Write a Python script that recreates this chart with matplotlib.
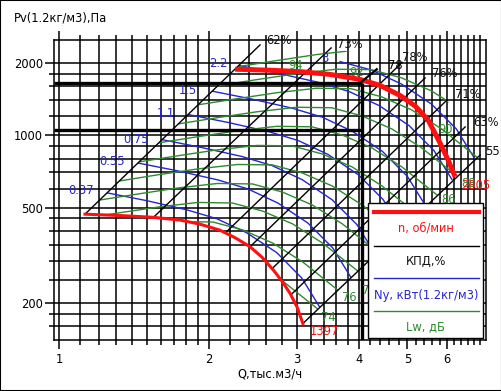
import matplotlib
matplotlib.use("Agg")
import matplotlib.pyplot as plt
from matplotlib.patches import Polygon, Rectangle
from matplotlib.lines import Line2D
from matplotlib.ticker import FixedLocator, NullFormatter

plt.rcParams["font.family"] = ["DejaVu Sans"]
FS = 8.3

# ---- сетка и оси
X_MAJOR = [1, 2, 3, 4, 5, 6]
X_MINOR = [1.1, 1.2, 1.3, 1.4, 1.5, 1.6, 1.7, 1.8, 1.9,
           2.2, 2.4, 2.6, 2.8, 3.2, 3.4, 3.6, 3.8, 4.2, 4.4, 4.6, 4.8,
           5.2, 5.4, 5.6, 5.8, 6.2, 6.4, 6.6, 6.8, 7.0]
Y_MAJOR = [200, 500, 1000, 2000]
Y_MINOR = [160, 180, 250, 300, 350, 400, 450, 600, 700, 800, 900,
           1200, 1400, 1600, 1800]
X_LIM = (0.977, 7.2)
Y_LIM = (140, 2500)

# ---- характеристики вентилятора (n, об/мин)
N_MAX_Q = [2.254, 2.649, 3.044, 3.497, 4.016, 4.405, 4.832, 5.181, 5.500,
           5.814, 6.033, 6.231]
N_MAX_P = [1888, 1870, 1845, 1796, 1712, 1616, 1467, 1326, 1159, 929, 789, 672]
N_MIN_Q = [1.126, 1.324, 1.545, 1.748, 1.917, 2.102, 2.254, 2.415, 2.553,
           2.690, 2.801, 2.906, 3.002, 3.083]
N_MIN_P = [469, 463, 455, 443, 426, 402, 374, 343, 310, 274, 246, 219, 192, 164]

# ---- линии КПД: нижняя и верхняя точки
EFF_LABELS = ["62%", "73%", "78%", "76%", "71%", "63%", "55"]
EFF_Q_LOW = [1.126, 1.545, 2.152, 2.415, 2.674, 2.920, 3.083]
EFF_P_LOW = [469, 455, 391, 343, 278, 216.5, 164]
EFF_Q_TOP = [2.529, 3.513, 4.877, 5.425, 6.005, 6.527, 6.996]
EFF_P_TOP = [2385, 2317, 2015, 1737, 1405, 1084, 828]
EFF_LBL_Q = [2.601, 3.612, 4.877, 5.604, 6.231, 6.773, 7.159]
EFF_LBL_P = [2478, 2385, 2104, 1804, 1474, 1132, 860]

# ---- мощность Ny, кВт
N037_Q = [1.245, 1.498, 1.803, 2.071, 2.379, 2.733, 3.067, 3.333]
N037_P = [576, 534, 489, 449, 392, 324, 254, 192]
N055_Q = [1.437, 1.729, 2.081, 2.390, 2.746, 3.154, 3.540, 3.847]
N055_P = [767, 711, 652, 598, 522, 431, 339, 256]
N075_Q = [1.607, 1.934, 2.328, 2.674, 3.071, 3.528, 3.959, 4.303]
N075_P = [960, 889, 816, 748, 654, 539, 424, 321]
N11_Q = [1.813, 2.182, 2.626, 3.016, 3.465, 3.980, 4.467, 4.854]
N11_P = [1222, 1132, 1038, 952, 832, 686, 540, 408]
N15_Q = [2.028, 2.440, 2.937, 3.373, 3.875, 4.452, 4.996, 5.429]
N15_P = [1529, 1416, 1298, 1191, 1040, 858, 675, 511]
N22_Q = [2.295, 2.761, 3.323, 3.817, 4.384, 5.037, 5.652, 6.143]
N22_P = [1957, 1812, 1662, 1524, 1332, 1099, 864, 654]
N3_Q = [3.662, 4.233, 4.862, 5.586, 6.269, 6.812]
N3_P = [2031, 1874, 1638, 1351, 1063, 804]
POWER_LABELS = ["0.37", "0.55", "0.75", "1.1", "1.5", "2.2", "3"]
POWER_LBL_Q = [1.174, 1.355, 1.514, 1.708, 1.890, 2.172, 3.465]
POWER_LBL_P = [586, 778, 961, 1228, 1532, 1987, 2084]

# ---- шум Lw, дБ
LW74_Q = [0.915, 1.090, 1.312, 1.579, 1.856, 2.132, 2.449, 2.813, 3.308]
LW74_P = [310, 329, 348, 364, 362, 335, 296, 246, 188]
LW76_Q = [1.002, 1.195, 1.438, 1.730, 2.034, 2.336, 2.684, 3.083, 3.625]
LW76_P = [373, 395, 418, 437, 435, 403, 355, 296, 226]
LW78_Q = [1.098, 1.309, 1.575, 1.896, 2.228, 2.560, 2.941, 3.378, 3.972]
LW78_P = [448, 474, 502, 525, 522, 483, 427, 355, 272]
LW80_Q = [1.204, 1.435, 1.726, 2.077, 2.442, 2.805, 3.222, 3.702, 4.352]
LW80_P = [537, 569, 603, 630, 627, 580, 512, 427, 326]
LW82_Q = [1.319, 1.572, 1.892, 2.276, 2.676, 3.074, 3.531, 4.057, 4.769]
LW82_P = [645, 684, 724, 756, 753, 697, 615, 512, 392]
LW84_Q = [1.445, 1.723, 2.073, 2.494, 2.932, 3.368, 3.869, 4.445, 5.226]
LW84_P = [775, 821, 870, 908, 904, 837, 739, 615, 470]
LW86_Q = [1.584, 1.888, 2.271, 2.733, 3.213, 3.691, 4.240, 4.871, 5.727]
LW86_P = [931, 986, 1044, 1091, 1086, 1005, 887, 739, 565]
LW88_Q = [1.736, 2.069, 2.489, 2.995, 3.521, 4.045, 4.647, 5.338, 6.276]
LW88_P = [1117, 1184, 1254, 1310, 1304, 1207, 1065, 887, 678]
LW90_Q = [1.902, 2.267, 2.728, 3.282, 3.858, 4.433, 5.092, 5.849, 6.877]
LW90_P = [1342, 1421, 1506, 1573, 1565, 1449, 1279, 1065, 814]
LW92_Q = [2.084, 2.484, 2.989, 3.596, 4.228, 4.857, 5.579, 6.410, 7.535]
LW92_P = [1611, 1707, 1808, 1888, 1880, 1740, 1535, 1279, 977]
LW94_Q = [2.284, 2.722, 3.275, 3.941, 4.633, 5.322, 6.114, 7.024, 8.257]
LW94_P = [1935, 2049, 2172, 2268, 2257, 2089, 1844, 1536, 1174]
NOISE_LABELS = ["74", "76", "78", "86", "88", "90", "92", "94"]
NOISE_LBL_Q = [3.465, 3.818, 4.188, 6.033, 6.618, 5.950, 3.943, 2.974]
NOISE_LBL_P = [174, 211, 226, 542, 632, 1053, 1821, 1949]

# ---- рабочая точка
OP_Q = 4.054
OP_P = [1650, 1053]
OP_SEG_Q = [4.048, 4.339]
OP_SEG_P = [1676, 1888]
OP_LABEL = ("78", 4.571, 1949)
RPM_LABELS = [("1397", 3.401, 152), ("2805", 6.868, 620)]

RED = "#ff0f0f"
BLUE = "#2424d0"
GREEN = "#2f8a2f"

fig = plt.figure(figsize=(5.02, 3.91), dpi=100)
fig.patches.append(Rectangle((0, 0), 1, 1, transform=fig.transFigure,
                             fill=False, ec="black", lw=1.5))
ax = fig.add_axes([0.1082, 0.1304, 0.8606, 0.7673])
ax.set_xscale("log")
ax.set_yscale("log")
ax.set_xlim(*X_LIM)
ax.set_ylim(*Y_LIM)

ax.xaxis.set_major_locator(FixedLocator(X_MAJOR))
ax.xaxis.set_minor_locator(FixedLocator(X_MINOR))
ax.yaxis.set_major_locator(FixedLocator(Y_MAJOR))
ax.yaxis.set_minor_locator(FixedLocator(Y_MINOR))
ax.set_xticklabels([str(v) for v in X_MAJOR])
ax.set_yticklabels([str(v) for v in Y_MAJOR])
ax.xaxis.set_minor_formatter(NullFormatter())
ax.yaxis.set_minor_formatter(NullFormatter())
ax.tick_params(which="major", length=6.5, width=1.1, direction="out",
               labelsize=FS, color="black")
ax.tick_params(which="minor", length=3.6, width=1.1, direction="out")
ax.tick_params(axis="x", which="both", top=True, pad=3)
ax.tick_params(axis="y", which="major", pad=1.5)
ax.grid(which="both", color="black", lw=1.1)
ax.set_axisbelow(True)
for s in ax.spines.values():
    s.set_linewidth(1.1)

# область допустимых режимов — для обрезки линий
region = list(zip(EFF_Q_TOP, EFF_P_TOP)) + list(zip(N_MIN_Q[::-1], N_MIN_P[::-1]))
clip = Polygon(region, closed=True, transform=ax.transData)

for q in [(N037_Q, N037_P), (N055_Q, N055_P), (N075_Q, N075_P), (N11_Q, N11_P),
          (N15_Q, N15_P), (N22_Q, N22_P), (N3_Q, N3_P)]:
    ln, = ax.plot(q[0], q[1], color=BLUE, lw=1.0, zorder=3)
    ln.set_clip_path(clip)

for q in [(LW74_Q, LW74_P), (LW76_Q, LW76_P), (LW78_Q, LW78_P), (LW80_Q, LW80_P),
          (LW82_Q, LW82_P), (LW84_Q, LW84_P), (LW86_Q, LW86_P), (LW88_Q, LW88_P),
          (LW90_Q, LW90_P), (LW92_Q, LW92_P), (LW94_Q, LW94_P)]:
    ln, = ax.plot(q[0], q[1], color=GREEN, lw=1.0, zorder=3)
    ln.set_clip_path(clip)

for i in range(len(EFF_LABELS)):
    ax.plot([EFF_Q_LOW[i], EFF_Q_TOP[i]], [EFF_P_LOW[i], EFF_P_TOP[i]],
            color="black", lw=1.0, zorder=4, clip_on=False)
    ax.text(EFF_LBL_Q[i], EFF_LBL_P[i], EFF_LABELS[i], fontsize=FS,
            ha="left", va="center", color="#111111", zorder=6, clip_on=False)

ax.plot(N_MAX_Q, N_MAX_P, color=RED, lw=3.6, zorder=5, solid_capstyle="butt",
        solid_joinstyle="round")
ax.plot(N_MIN_Q, N_MIN_P, color=RED, lw=2.2, zorder=5, solid_joinstyle="round")

# рабочая точка
ax.hlines(OP_P, X_LIM[0], OP_Q, color="black", lw=2.4, zorder=5)
ax.vlines(OP_Q, Y_LIM[0], OP_P[0], color="black", lw=2.4, zorder=5)
ax.plot(OP_SEG_Q, OP_SEG_P, color="black", lw=1.6, zorder=5)
ax.text(OP_LABEL[1], OP_LABEL[2], OP_LABEL[0], fontsize=FS, ha="left",
        va="center", zorder=6)

for t, q, p in zip(POWER_LABELS, POWER_LBL_Q, POWER_LBL_P):
    ax.text(q, p, t, fontsize=FS, color=BLUE, ha="right", va="center", zorder=6)
for t, q, p in zip(NOISE_LABELS, NOISE_LBL_Q, NOISE_LBL_P):
    ax.text(q, p, t, fontsize=FS, color=GREEN, ha="center", va="center",
            zorder=10 if t == "86" else 6)
for t, q, p in RPM_LABELS:
    ax.text(q, p, t, fontsize=FS, color=RED, ha="center", va="center", zorder=6,
            clip_on=False)

# легенда
ax.add_patch(Rectangle((0.7263, 0.0057), 0.2661, 0.45, transform=ax.transAxes,
                       fc="white", ec="black", lw=1.0, zorder=8, clip_on=False))
legend_items = [(RED, 3.0, "n, об/мин", 0.4257, 0.3743),
                ("black", 1.0, "КПД,%", 0.3143, 0.261),
                (BLUE, 1.0, "Ny, кВт(1.2кг/м3)", 0.2057, 0.150),
                (GREEN, 1.0, "Lw, дБ", 0.0967, 0.0443)]
for col, lw, txt, yl, yt in legend_items:
    ax.add_line(Line2D([0.7395, 0.9824], [yl, yl], transform=ax.transAxes,
                       color=col, lw=lw, zorder=9, clip_on=False))
    ax.text(0.8598, yt, txt, transform=ax.transAxes, fontsize=FS,
            color=col if col != "black" else "#111111",
            ha="center", va="center", zorder=9)

fig.text(14 / 502, 1 - 18 / 391, "Pv(1.2кг/м3),Па", fontsize=FS,
         ha="left", va="center")
fig.text(270 / 502, 1 - 374 / 391, "Q,тыс.м3/ч", fontsize=FS,
         ha="center", va="center")

fig.savefig("out.png", dpi=100)
